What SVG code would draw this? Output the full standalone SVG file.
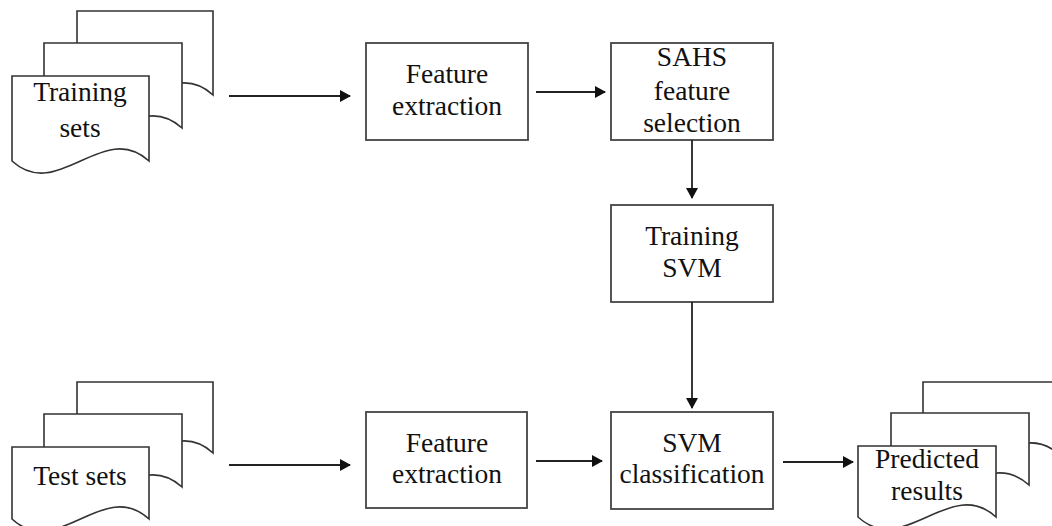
<svg xmlns="http://www.w3.org/2000/svg" width="1052" height="526" viewBox="0 0 1052 526">
<style>
.sh{fill:#fff;stroke:#333;stroke-width:1.6}
.bx{fill:#fff;stroke:#444;stroke-width:1.8}
.t{font-family:"Liberation Serif","Times New Roman",serif;font-size:27.5px;fill:#111;text-anchor:middle}
.c{fill:none;stroke:#222;stroke-width:1.8}
</style>
<defs>
<marker id="ah" markerWidth="11" markerHeight="12" refX="10" refY="6" orient="auto" markerUnits="userSpaceOnUse">
<path d="M0,0 L11,6 L0,12 Z" fill="#111"/>
</marker>
</defs>
<rect width="1052" height="526" fill="#fff"/>
<g id="training-sets">
<path class="sh" d="M77,11 H213 V95 C168,53 122,137 77,95 Z"/>
<path class="sh" d="M44,43 H182 V128 C136,86 90,170 44,128 Z"/>
<path class="sh" d="M12,76 H149 V161 C103,119 58,203 12,161 Z"/>
<text class="t" x="80" y="101">Training</text>
<text class="t" x="80" y="137">sets</text>
</g>
<g id="test-sets">
<path class="sh" d="M77,382 H213 V453 C168,411 122,495 77,453 Z"/>
<path class="sh" d="M44,414 H182 V487 C136,445 90,529 44,487 Z"/>
<path class="sh" d="M12,447 H149 V519 C103,477 58,561 12,519 Z"/>
<text class="t" x="80" y="485">Test sets</text>
</g>
<g id="predicted-results">
<path class="sh" d="M923,382 H1060 V455 C1014,413 969,497 923,455 Z"/>
<path class="sh" d="M891,413 H1029 V485 C983,443 937,527 891,485 Z"/>
<path class="sh" d="M858,446 H996 V517 C950,475 904,559 858,517 Z"/>
<text class="t" x="927" y="468">Predicted</text>
<text class="t" x="927" y="500">results</text>
</g>
<g id="feature-extraction-1">
<rect class="bx" x="366" y="43" width="162" height="97"/>
<text class="t" x="447" y="83">Feature</text>
<text class="t" x="447" y="115">extraction</text>
</g>
<g id="sahs">
<rect class="bx" x="611" y="43" width="162" height="97"/>
<text class="t" x="692" y="66">SAHS</text>
<text class="t" x="692" y="100">feature</text>
<text class="t" x="692" y="132">selection</text>
</g>
<g id="training-svm">
<rect class="bx" x="611" y="205" width="162" height="97"/>
<text class="t" x="692" y="245">Training</text>
<text class="t" x="692" y="277">SVM</text>
</g>
<g id="feature-extraction-2">
<rect class="bx" x="366" y="412" width="161" height="96"/>
<text class="t" x="447" y="452">Feature</text>
<text class="t" x="447" y="483">extraction</text>
</g>
<g id="svm-classification">
<rect class="bx" x="611" y="412" width="162" height="97"/>
<text class="t" x="692" y="452">SVM</text>
<text class="t" x="692" y="483">classification</text>
</g>
<g id="connectors">
<line class="c" x1="229" y1="96" x2="350" y2="96" marker-end="url(#ah)"/>
<line class="c" x1="536" y1="92" x2="605" y2="92" marker-end="url(#ah)"/>
<line class="c" x1="692" y1="140" x2="692" y2="198" marker-end="url(#ah)"/>
<line class="c" x1="692" y1="302" x2="692" y2="408" marker-end="url(#ah)"/>
<line class="c" x1="229" y1="465" x2="350" y2="465" marker-end="url(#ah)"/>
<line class="c" x1="536" y1="461" x2="602" y2="461" marker-end="url(#ah)"/>
<line class="c" x1="783" y1="462" x2="853" y2="462" marker-end="url(#ah)"/>
</g>
</svg>
